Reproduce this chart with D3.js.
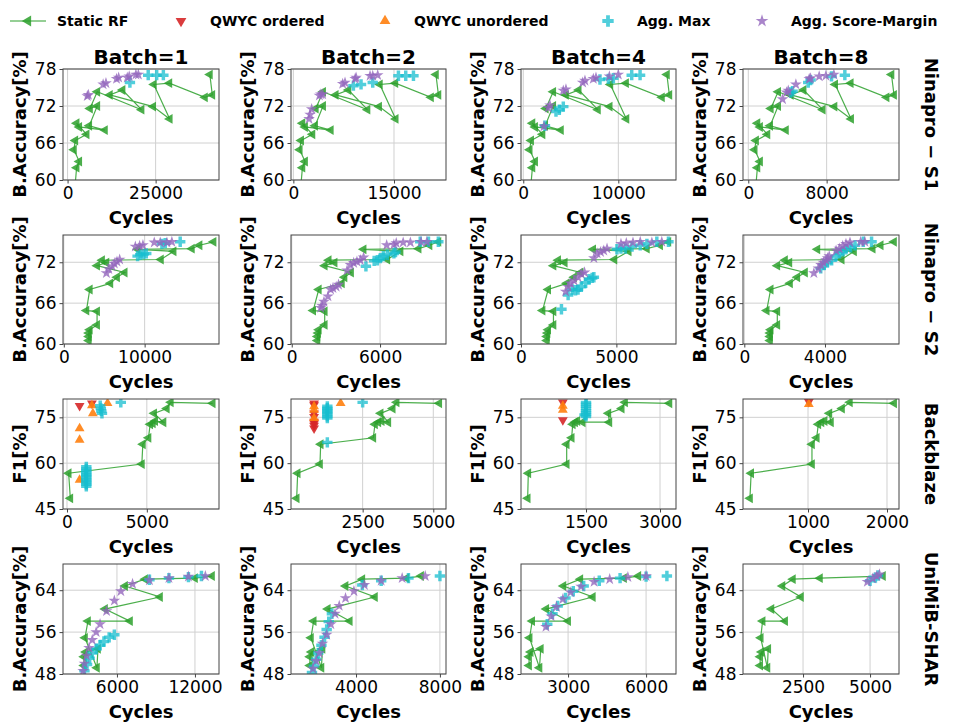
<!DOCTYPE html>
<html><head><meta charset="utf-8">
<script src="https://cdn.jsdelivr.net/npm/d3@7"></script>
<style>body{margin:0;background:#fff} text{font-family:"DejaVu Sans",sans-serif}</style>
</head><body><svg id="c" width="954" height="725"></svg>
<script>
// ---------- labels / axes ----------
const batches = ["Batch=1","Batch=2","Batch=4","Batch=8"];
const datasets = ["Ninapro \u2212 S1","Ninapro \u2212 S2","Backblaze","UniMiB-SHAR"];
const yLabels = ["B.Accuracy[%]","B.Accuracy[%]","F1[%]","B.Accuracy[%]"];
const yDomains = [[60,78],[60,76],[45,81],[48,69]];
const yTicks = [[60,66,72,78],[60,66,72],[45,60,75],[48,56,64]];
const xDomains = [
  [[-1300,43000],[-350,22750],[-240,16070],[-540,15390]],
  [[-100,19200],[-50,10480],[0,8125],[-65,7670]],
  [[-250,9520],[-36,5450],[182,3324],[177,2152]],
  [[1850,13850],[900,8290],[1190,7150],[260,6080]]
];
const xTicks = [
  [[0,25000],[0,15000],[0,10000],[0,8000]],
  [[0,10000],[0,6000],[0,5000],[0,4000]],
  [[0,5000],[2500,5000],[1500,3000],[1000,2000]],
  [[6000,12000],[4000,8000],[3000,6000],[2500,5000]]
];
const seriesNames = ["Static RF","QWYC ordered","QWYC unordered","Agg. Max","Agg. Score-Margin"];

// ---------- data: [cycles, metric] ----------
// Ninapro S1
const rfS1 = [
 [[1900,57.5],[2560,62.0],[3310,63.0],[1800,64.9],[2180,66.4],[5400,67.4],[2560,69.2],[3310,68.6],[10600,68.1],[6150,68.8],[8430,72.0],[6350,71.6],[8430,74.3],[21000,71.4],[15600,74.6],[12000,73.8],[24300,71.9],[29000,69.9],[24500,75.5],[28900,75.7],[39000,73.4],[41100,73.8],[40400,77.1]],
 [[1000,57.5],[1350,62.0],[1740,63.0],[950,64.9],[1150,66.4],[2840,67.4],[1350,69.2],[1740,68.6],[5580,68.1],[3240,68.8],[4430,72.0],[3340,71.6],[4430,74.3],[11050,71.4],[8210,74.6],[6310,73.8],[12780,71.9],[15250,69.9],[12890,75.5],[15200,75.7],[20510,73.4],[21620,73.8],[21250,77.1]],
 [[710,57.5],[960,62.0],[1240,63.0],[670,64.9],[820,66.4],[2020,67.4],[960,69.2],[1240,68.6],[3960,68.1],[2300,68.8],[3150,72.0],[2370,71.6],[3150,74.3],[7850,71.4],[5830,74.6],[4490,73.8],[9090,71.9],[10850,69.9],[9160,75.5],[10810,75.7],[14590,73.4],[15370,73.8],[15110,77.1]],
 [[690,57.5],[930,62.0],[1200,63.0],[650,64.9],[790,66.4],[1950,67.4],[930,69.2],[1200,68.6],[3840,68.1],[2230,68.8],[3050,72.0],[2300,71.6],[3050,74.3],[7600,71.4],[5650,74.6],[4340,73.8],[8800,71.9],[10500,69.9],[8870,75.5],[10460,75.7],[14120,73.4],[14880,73.8],[14620,77.1]]
];
const amS1 = [
 [[17700,75.8],[22900,77.0],[25300,77.0],[27200,77.0]],
 [[8950,75.3],[10090,75.5],[11830,75.8],[15660,76.9],[16750,76.9],[17900,76.9]],
 [[2280,68.8],[3440,71.1],[3790,71.4],[4210,71.9],[8070,76.3],[8950,76.4],[9480,76.5],[11410,77.0],[12290,77.0]],
 [[4320,74.2],[4520,74.4],[6120,75.8],[6360,76.2],[8500,76.8],[9860,77.0]]
];
const asmS1 = [
 [[5590,73.6],[5900,73.8],[10100,75.5],[10900,75.7],[13900,76.4],[14500,76.6],[16950,76.6],[17500,76.8],[19400,77.1],[20100,77.1]],
 [[2340,69.9],[2490,70.6],[2730,71.5],[3880,73.7],[4100,73.9],[4370,73.9],[7350,75.6],[7700,75.8],[9200,76.4],[9350,76.6],[11430,76.9],[11830,76.9],[12570,77.0]],
 [[2180,68.7],[2630,71.7],[2810,72.1],[4210,74.5],[4490,74.7],[6250,75.8],[6490,76.1],[7370,76.4],[7650,76.6],[9060,76.8],[10000,77.1]],
 [[3500,73.1],[3910,74.2],[4080,74.5],[4860,75.5],[6220,76.4],[6360,76.5],[7240,76.8],[7920,76.9],[8740,77.1]]
];
// Ninapro S2
const rfS2 = [
 [[3086,60.5],[3086,61.1],[3086,61.6],[3210,62.1],[4115,62.8],[4115,64.8],[2798,64.9],[3210,68.0],[5761,68.9],[6584,69.8],[7530,70.5],[4115,71.5],[5267,71.95],[4732,72.3],[12016,72.4],[13580,73.6],[9135,73.9],[15843,74.0],[16790,74.5],[18520,75.0]],
 [[1746,60.5],[1746,61.1],[1791,61.6],[1836,62.1],[2239,62.8],[2239,64.8],[1455,64.9],[1836,68.0],[3403,68.9],[3582,69.8],[4030,70.5],[2239,71.5],[2911,71.95],[2508,72.3],[6493,72.4],[7389,73.6],[4881,73.9],[8620,74.0],[9359,74.5],[9964,75.0]],
 [[1354,60.5],[1354,61.1],[1389,61.6],[1424,62.1],[1701,62.8],[1701,64.8],[1128,64.9],[1424,68.0],[2396,68.9],[2778,69.8],[3125,70.5],[1701,71.5],[2292,71.95],[1944,72.3],[4896,72.4],[5642,73.6],[3784,73.9],[6597,74.0],[7291,74.5],[7725,75.0]],
 [[1273,60.5],[1273,61.1],[1273,61.6],[1306,62.1],[1636,62.8],[1636,64.8],[1108,64.9],[1306,68.0],[2265,68.9],[2628,69.8],[3008,70.5],[1636,71.5],[2232,71.95],[2017,72.3],[4827,72.4],[5438,73.6],[3620,73.9],[6364,74.0],[6761,74.5],[7422,75.0]]
];
const amS2 = [
 [[9130,72.9],[9460,73.1],[9880,73.2],[10200,73.3],[12140,74.7],[12550,74.8],[14400,75.0]],
 [[5040,71.4],[5600,72.2],[5820,72.3],[6020,72.6],[6220,72.9],[6490,73.1],[6940,73.3],[7050,73.5],[8730,75.0],[9290,75.0],[9960,75.0]],
 [[2120,65.1],[2470,67.2],[2690,68.0],[2860,67.9],[2990,68.0],[3160,68.4],[3390,69.0],[3560,69.5],[3730,69.7],[3820,69.8],[5030,73.9],[5240,74.0],[5470,74.0],[5820,74.3],[6250,74.5],[6600,74.7],[7120,75.0],[7730,75.0]],
 [[3790,71.1],[3950,71.6],[4120,71.95],[4330,72.3],[4550,72.9],[4710,73.3],[4880,73.6],[5040,73.9],[5270,74.2],[5490,74.5],[5900,75.0],[6310,75.0]]
];
const asmS2 = [
 [[5270,70.4],[5560,71.0],[5970,71.4],[6250,71.8],[6580,72.1],[6910,72.4],[8850,74.3],[9380,74.4],[9790,74.5],[11190,74.9],[11930,74.9],[12760,74.9],[13370,75.0]],
 [[1970,65.3],[2060,65.6],[2190,66.2],[2460,67.0],[2640,68.0],[2800,68.2],[3020,68.4],[3180,68.7],[3760,70.8],[3990,71.6],[4210,71.9],[4430,72.1],[4660,72.3],[4880,72.7],[6450,74.5],[6940,74.6],[7100,74.8],[7570,74.9],[8060,74.9],[8780,75.0],[9180,75.0]],
 [[2340,67.7],[2470,68.4],[2600,68.9],[2780,69.3],[2990,69.8],[3160,70.3],[3330,70.5],[3820,72.6],[3990,73.3],[4170,73.5],[4340,73.7],[4510,74.0],[5240,74.7],[5520,74.8],[5870,74.9],[6250,75.0],[6860,74.9],[7380,75.0]],
 [[3450,70.4],[3670,71.1],[3800,71.6],[3920,71.95],[4050,72.3],[4130,72.6],[4210,72.9],[4550,73.7],[4710,74.0],[4880,74.4],[5040,74.7],[5240,74.9],[5770,75.0],[5980,75.0]]
];
// Backblaze
const rfBB = [
 [[208,48.5],[104,56.7],[4687,59.7],[4749,66.2],[5103,68.3],[5208,72.7],[5374,73.0],[5520,73.8],[6041,73.4],[5457,76.3],[6249,77.9],[6499,79.9],[9124,79.6]],
 [[165,48.5],[200,56.7],[990,59.7],[1014,66.2],[2877,68.3],[2936,72.7],[3054,73.4],[3172,73.8],[3407,73.4],[3136,76.3],[3561,77.9],[3702,79.9],[5211,79.6]],
 [[317,48.5],[330,56.7],[1108,59.7],[1108,66.2],[1209,68.3],[1230,72.7],[1277,73.4],[1324,73.8],[1432,73.4],[1973,73.4],[1953,76.3],[2223,77.9],[2291,79.9],[3190,79.6]],
 [[265,48.5],[280,56.7],[1050,59.7],[1050,66.2],[1110,68.3],[1130,72.7],[1170,73.4],[1210,73.8],[1290,73.4],[1270,76.3],[1430,77.9],[1530,79.9],[2090,79.6]]
];
const qoBB = [
 [[790,78.8],[1560,79.6]],
 [[780,79.6],[780,79.0],[780,76.3],[780,75.2],[780,73.6],[780,73.0],[780,72.3],[780,71.4]],
 [[1030,79.9],[1030,74.1]],
 [[1010,80.1]]
];
const quBB = [
 [[790,71.4],[790,67.6],[790,54.5],[1560,78.9],[1620,76.3],[2540,79.6]],
 [[780,78.6],[780,77.4],[780,74.7],[1720,79.6]],
 [[1030,78.7],[1030,77.4]],
 [[1010,79.3]]
];
const amBB = [
 [[1210,52.4],[1210,53.1],[1210,53.5],[1210,54.2],[1210,54.6],[1210,55.3],[1210,55.8],[1210,56.4],[1210,56.9],[1210,57.6],[1210,58.1],[1210,58.8],[2080,78.8],[2120,77.9],[2150,77.1],[2190,76.3],[3370,79.9]],
 [[1250,78.6],[1250,78.0],[1250,77.6],[1250,77.0],[1250,76.5],[1250,75.9],[1250,75.3],[1250,74.8],[1250,66.8],[2500,79.9]],
 [[1500,79.9],[1500,79.3],[1500,78.6],[1500,78.0],[1500,77.2],[1500,76.6],[1500,75.9],[1500,75.3],[1470,75.8]],
 []
];
// UniMiB-SHAR
const rfU = [
 [[3460,49.6],[3460,51.3],[3600,52.2],[4540,52.8],[4460,49.2],[3540,54.9],[3770,58.1],[7000,58.1],[5080,60.4],[9310,62.7],[6620,64.8],[8160,66.1],[12000,66.3],[13310,66.7]],
 [[1800,49.6],[1800,51.3],[1870,52.2],[2400,52.8],[2350,49.2],[1850,54.9],[1980,58.1],[3700,58.1],[2650,60.4],[4900,62.7],[3500,64.8],[4300,66.1],[6400,66.3],[7100,66.7]],
 [[1500,49.6],[1500,51.3],[1560,52.2],[1950,52.8],[1900,49.2],[1520,54.9],[1620,58.1],[3000,58.1],[2160,60.4],[3950,62.7],[2820,64.8],[3470,66.1],[5150,66.3],[5700,66.7]],
 [[900,49.6],[900,51.3],[950,52.2],[1200,52.8],[1170,49.2],[920,54.9],[990,58.1],[1830,58.1],[1320,60.4],[2420,62.7],[1730,64.8],[2120,66.1],[3130,66.3],[5480,66.7]]
];
const amU = [
 [[3500,48.6],[3700,49.8],[3900,51.0],[4100,52.0],[4400,52.8],[4700,53.5],[5000,54.2],[5400,55.0],[5800,55.5],[8500,66.0],[10000,66.3],[11500,66.5],[12500,66.7]],
 [[1900,48.3],[2000,49.5],[2100,50.8],[2200,52.0],[2350,53.5],[2500,55.0],[2600,56.5],[2700,58.0],[2850,59.5],[4300,65.0],[5200,65.8],[6500,66.3],[8000,66.7]],
 [[2200,57.5],[2400,59.5],[2600,61.0],[2900,62.5],[3200,63.8],[3600,64.8],[4200,65.8],[5000,66.3],[6000,66.6],[6800,66.7]],
 [[5000,65.8],[5200,66.4],[5300,66.8]]
];
const asmU = [
 [[3400,48.6],[3500,50.0],[3650,51.5],[3850,53.0],[4100,54.5],[4400,56.0],[4700,57.5],[5200,60.0],[5800,62.0],[6300,63.8],[7200,65.2],[8500,65.9],[10000,66.3],[11500,66.6],[12800,66.7]],
 [[1950,49.0],[2100,50.5],[2250,52.0],[2400,53.8],[2600,55.5],[2800,57.5],[3000,59.5],[3200,61.0],[3500,62.5],[3900,63.8],[4400,65.0],[5200,65.8],[6200,66.3],[7300,66.7]],
 [[2150,57.0],[2350,59.0],[2550,60.8],[2800,62.3],[3100,63.6],[3500,64.7],[4000,65.6],[4600,66.1],[5300,66.5],[6000,66.7]],
 [[4900,65.6],[5100,66.2],[5250,66.7],[5350,67.0]]
];

const rfAll = [rfS1, rfS2, rfBB, rfU];
const qoAll = [[[],[],[],[]],[[],[],[],[]], qoBB, [[],[],[],[]]];
const quAll = [[[],[],[],[]],[[],[],[],[]], quBB, [[],[],[],[]]];
const amAll = [amS1, amS2, amBB, amU];
const asmAll = [asmS1, asmS2, [[],[],[],[]], asmU];

// ---------- drawing ----------
const svg = d3.select("#c");
const colX = [[63,219],[291,446],[521,676],[743,899]];
const rowY = [[69,180],[235,344],[399,509],[564,674]];
const C = {rf:"#2ca02c", qo:"#d62728", qu:"#ff7f0e", am:"#17becf", asm:"#9467bd"};
const mk = {
  rf:{type:d3.symbolTriangle,size:42,rot:-90,op:0.85},
  qo:{type:d3.symbolTriangle,size:42,rot:180,op:0.9},
  qu:{type:d3.symbolTriangle,size:42,rot:0,op:0.9},
  am:{type:d3.symbolCross,size:60,rot:0,op:0.75},
  asm:{type:d3.symbolStar,size:42,rot:0,op:0.8}
};
const fmt = d3.format("d");

datasets.forEach((ds, r) => {
  batches.forEach((b, c) => {
    const [x0, x1] = colX[c], [y0, y1] = rowY[r];
    const x = d3.scaleLinear().domain(xDomains[r][c]).range([x0, x1]);
    const y = d3.scaleLinear().domain(yDomains[r]).range([y1, y0]);
    const id = `clip${r}${c}`;
    svg.append("clipPath").attr("id", id).append("rect")
      .attr("x", x0).attr("y", y0).attr("width", x1 - x0).attr("height", y1 - y0);
    const g = svg.append("g");
    g.selectAll(null).data(xTicks[r][c]).join("line")
      .attr("x1", d => x(d)).attr("x2", d => x(d)).attr("y1", y0).attr("y2", y1)
      .attr("stroke", "#d0d0d0").attr("stroke-width", 1);
    g.selectAll(null).data(yTicks[r]).join("line")
      .attr("y1", d => y(d)).attr("y2", d => y(d)).attr("x1", x0).attr("x2", x1)
      .attr("stroke", "#d0d0d0").attr("stroke-width", 1);
    const pg = g.append("g").attr("clip-path", `url(#${id})`);
    const rf = rfAll[r][c];
    pg.append("path").datum(rf)
      .attr("d", d3.line().x(d => x(d[0])).y(d => y(d[1])))
      .attr("fill", "none").attr("stroke", C.rf).attr("stroke-width", 1.2).attr("opacity", 0.85);
    const drawPts = (pts, key) => {
      const m = mk[key];
      pg.selectAll(null).data(pts).join("path")
        .attr("d", d3.symbol(m.type, m.size))
        .attr("transform", d => `translate(${x(d[0])},${y(d[1])}) rotate(${m.rot})`)
        .attr("fill", C[key]).attr("opacity", m.op);
    };
    drawPts(rf, "rf");
    drawPts(qoAll[r][c], "qo");
    drawPts(quAll[r][c], "qu");
    drawPts(amAll[r][c], "am");
    drawPts(asmAll[r][c], "asm");
    g.append("rect").attr("x", x0).attr("y", y0).attr("width", x1 - x0).attr("height", y1 - y0)
      .attr("fill", "none").attr("stroke", "#444").attr("stroke-width", 1);
    const xa = g.append("g").attr("transform", `translate(0,${y1})`)
      .call(d3.axisBottom(x).tickValues(xTicks[r][c]).tickSize(3.5).tickPadding(3).tickFormat(fmt));
    xa.select(".domain").remove();
    xa.selectAll("text").attr("font-size", 17).attr("font-family", "DejaVu Sans").attr("fill", "#000");
    xa.selectAll("line").attr("stroke", "#444");
    const ya = g.append("g").attr("transform", `translate(${x0},0)`)
      .call(d3.axisLeft(y).tickValues(yTicks[r]).tickSize(3.5).tickPadding(3).tickFormat(fmt));
    ya.select(".domain").remove();
    ya.selectAll("text").attr("font-size", 17).attr("font-family", "DejaVu Sans").attr("fill", "#000");
    ya.selectAll("line").attr("stroke", "#444");
    g.append("text").attr("x", (x0 + x1) / 2).attr("y", y1 + 44)
      .attr("text-anchor", "middle").attr("font-size", 18).attr("font-weight", "bold").text("Cycles");
    g.append("text").attr("transform", `translate(${x0 - 37},${(y0 + y1) / 2}) rotate(-90)`)
      .attr("text-anchor", "middle").attr("font-size", 18).attr("font-weight", "bold").text(yLabels[r]);
    if (r === 0) {
      g.append("text").attr("x", (x0 + x1) / 2).attr("y", y0 - 5)
        .attr("text-anchor", "middle").attr("font-size", 20).attr("font-weight", "bold").text(b);
    }
    if (c === 3) {
      g.append("text").attr("transform", `translate(925,${(y0 + y1) / 2}) rotate(90)`)
        .attr("text-anchor", "middle").attr("font-size", 18).attr("font-weight", "bold").text(ds);
    }
  });
});

// legend
const leg = svg.append("g");
const legX = [28, 181, 385, 608, 762];
const legKeys = ["rf","qo","qu","am","asm"];
legKeys.forEach((k, i) => {
  const cx = legX[i], cy = 21;
  if (k === "rf") leg.append("line").attr("x1", cx - 18).attr("x2", cx + 18).attr("y1", cy).attr("y2", cy)
    .attr("stroke", C.rf).attr("stroke-width", 1.2);
  const m = mk[k];
  leg.append("path").attr("d", d3.symbol(m.type, m.size * 1.2))
    .attr("transform", `translate(${cx},${cy}) rotate(${m.rot})`).attr("fill", C[k]).attr("opacity", m.op);
  leg.append("text").attr("x", cx + 29).attr("y", cy + 5)
    .attr("font-size", 14).attr("font-weight", "bold").text(seriesNames[i]);
});
</script></body></html>
